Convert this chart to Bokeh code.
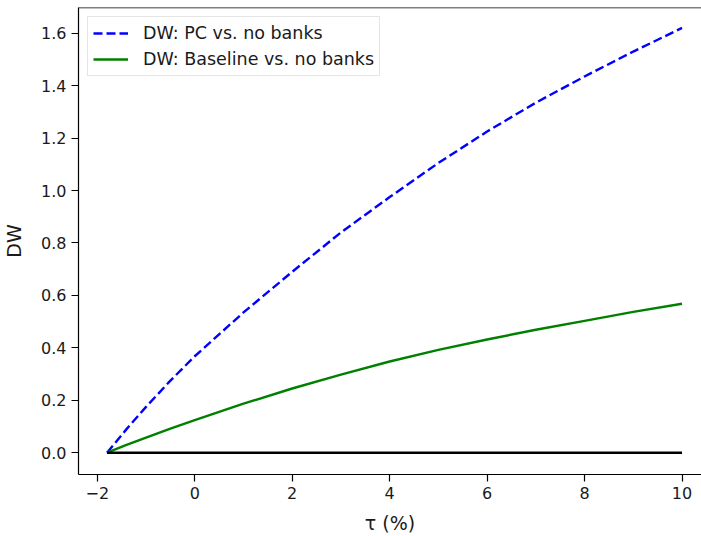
from bokeh.plotting import figure
from bokeh.models import Range1d, FixedTicker, Legend, LegendItem, Span
from bokeh.embed import file_html
from bokeh.resources import INLINE

# Data
tau = [-1.8, -1.4, -1, -0.5, 0, 1, 2, 3, 4, 5, 6, 7, 8, 9, 10]
dw_pc = [0, 0.09, 0.175, 0.275, 0.368, 0.535, 0.69, 0.84, 0.975, 1.105, 1.225, 1.335, 1.435, 1.53, 1.62]
dw_base = [0, 0.03, 0.058, 0.092, 0.124, 0.187, 0.245, 0.298, 0.348, 0.392, 0.432, 0.469, 0.503, 0.537, 0.568]
zero_x = [tau[0], tau[-1]]
zero_y = [0, 0]
x_ticks = [-2, 0, 2, 4, 6, 8, 10]
y_ticks = [0.0, 0.2, 0.4, 0.6, 0.8, 1.0, 1.2, 1.4, 1.6]
labels = ["DW: PC vs. no banks", "DW: Baseline vs. no banks"]

FONT = "DejaVu Sans"
Y_TOP = 1.698

p = figure(width=701, height=536, output_backend="svg", toolbar_location=None,
           x_range=Range1d(-2.386, 10.40), y_range=Range1d(-0.083, Y_TOP),
           min_border_left=78, min_border_right=0, min_border_top=7, min_border_bottom=58)
p.outline_line_color = None
p.xgrid.grid_line_color = None
p.ygrid.grid_line_color = None
p.background_fill_color = "white"
p.border_fill_color = "white"

r_pc = p.line(tau, dw_pc, line_color="blue", line_width=2.4, line_dash="9 4")
r_base = p.line(tau, dw_base, line_color="green", line_width=2.4)
p.line(zero_x, zero_y, line_color="black", line_width=2.4)

for ax in (p.xaxis[0], p.yaxis[0]):
    ax.axis_line_color = "black"
    ax.axis_line_width = 1.2
    ax.major_tick_line_color = "black"
    ax.major_tick_line_width = 1.2
    ax.major_tick_out = 7
    ax.major_tick_in = 0
    ax.minor_tick_line_color = None
    ax.major_label_text_font = FONT
    ax.major_label_text_font_size = "16px"
    ax.major_label_text_color = "#1a1a1a"
    ax.major_label_standoff = 5
    ax.axis_label_text_font = FONT
    ax.axis_label_text_font_size = "19px"
    ax.axis_label_text_font_style = "normal"
    ax.axis_label_text_color = "#1a1a1a"

p.xaxis[0].ticker = FixedTicker(ticks=x_ticks)
p.yaxis[0].ticker = FixedTicker(ticks=y_ticks)
p.yaxis[0].major_label_overrides = {v: f"{v:.1f}" for v in y_ticks}
p.xaxis[0].major_label_overrides = {v: (f"\u2212{abs(v)}" if v < 0 else str(v)) for v in x_ticks}
p.xaxis[0].axis_label = "\u03c4 (%)"
p.yaxis[0].axis_label = "DW"
p.xaxis[0].axis_label_standoff = 10
p.yaxis[0].axis_label_standoff = 13

p.add_layout(Span(location=Y_TOP, dimension="width", line_color="black", line_width=1.5))

legend = Legend(items=[LegendItem(label=labels[0], renderers=[r_pc]),
                       LegendItem(label=labels[1], renderers=[r_base])],
                location="top_left")
legend.margin = 9
legend.padding = 5
legend.spacing = 4
legend.glyph_width = 35
legend.glyph_height = 22
legend.label_height = 22
legend.label_standoff = 15
legend.label_text_font = FONT
legend.label_text_font_size = "17.5px"
legend.label_text_color = "#1a1a1a"
legend.border_line_color = "#cccccc"
legend.border_line_width = 1
legend.background_fill_alpha = 0.8
p.add_layout(legend)

open("out.html", "w").write(file_html(p, INLINE))
